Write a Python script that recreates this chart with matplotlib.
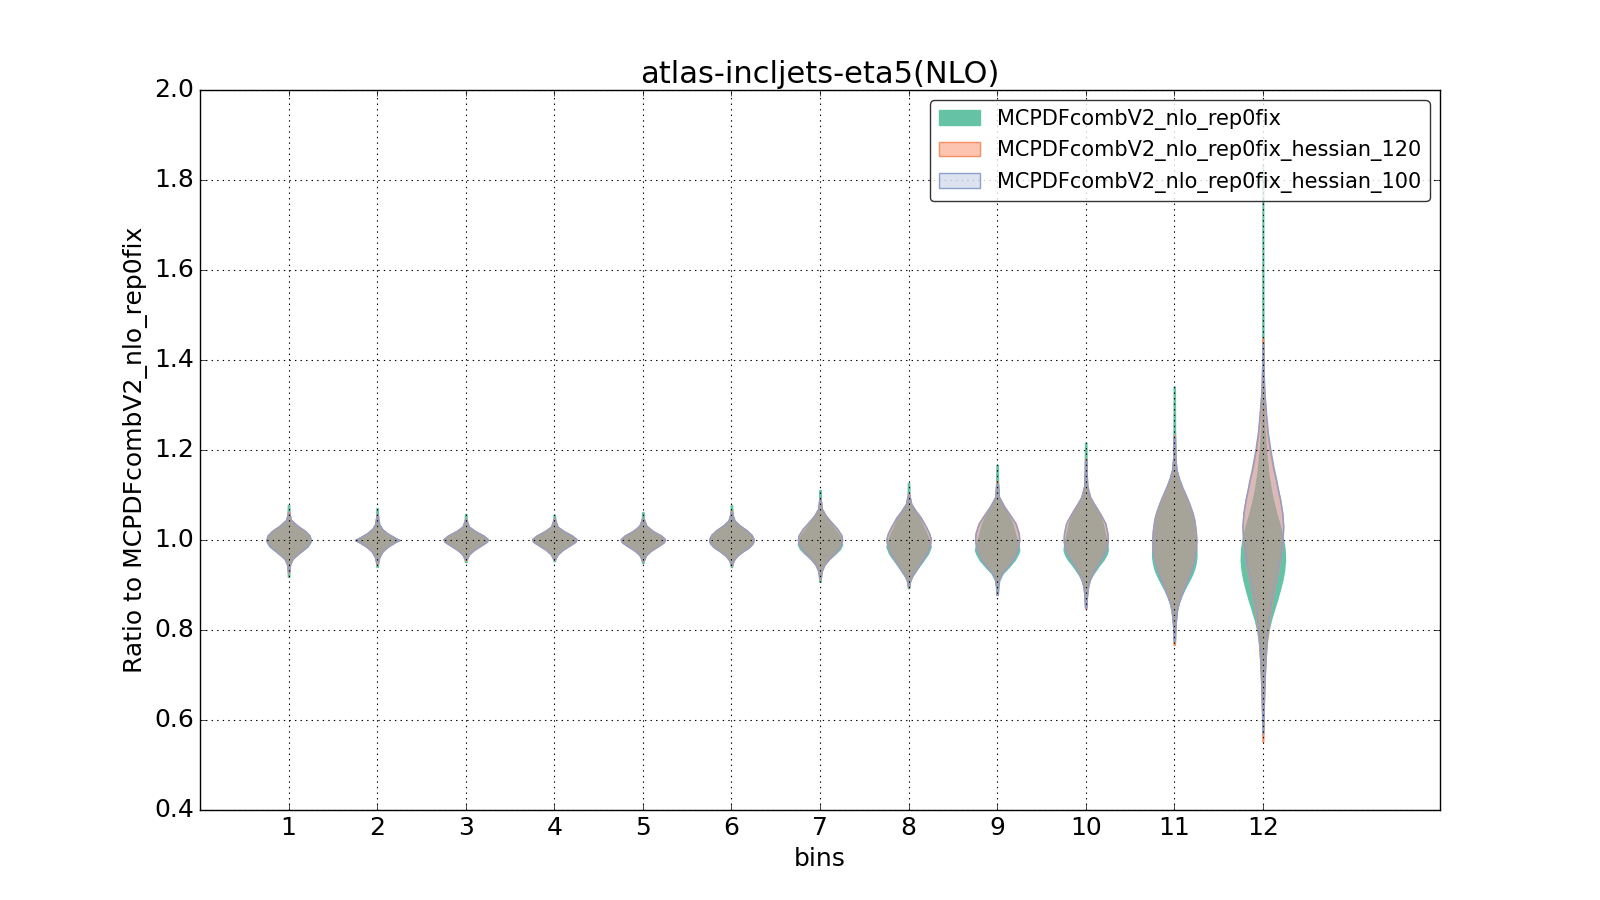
import matplotlib
matplotlib.use('Agg')
import matplotlib.pyplot as plt
from matplotlib.colors import to_rgba
from matplotlib.patches import Patch

# bins on the x axis
BINS = list(range(1, 13))

SERIES_NAMES = ['MCPDFcombV2_nlo_rep0fix',
                'MCPDFcombV2_nlo_rep0fix_hessian_120',
                'MCPDFcombV2_nlo_rep0fix_hessian_100']
SERIES_COLORS = ['#66c2a5', '#fc8d62', '#8da0cb']
SERIES_ALPHA = [1.0, 0.5, 0.3]

# violin profiles: ratio values (y) and relative
# density (w) for every bin
GREEN_Y = [
    [0.918, 0.935, 0.95, 0.96, 0.972, 0.985, 0.995, 1.0, 1.008, 1.018, 1.03, 1.042, 1.055, 1.078],
    [0.94, 0.955, 0.965, 0.975, 0.985, 0.995, 1.0, 1.005, 1.015, 1.025, 1.035, 1.05, 1.071],
    [0.951, 0.962, 0.972, 0.982, 0.992, 1.0, 1.008, 1.018, 1.028, 1.04, 1.058],
    [0.953, 0.962, 0.972, 0.982, 0.992, 1.0, 1.008, 1.018, 1.028, 1.04, 1.056],
    [0.949, 0.96, 0.97, 0.98, 0.99, 1.0, 1.008, 1.018, 1.03, 1.043, 1.062],
    [0.94, 0.952, 0.962, 0.972, 0.982, 0.992, 1.0, 1.008, 1.018, 1.028, 1.04, 1.055, 1.078],
    [0.907, 0.925, 0.94, 0.955, 0.97, 0.98, 0.99, 1.0, 1.012, 1.025, 1.04, 1.055, 1.067, 1.085, 1.111],
    [0.893, 0.905, 0.918, 0.933, 0.945, 0.956, 0.97, 0.985, 1.0, 1.015, 1.03, 1.05, 1.065, 1.082, 1.1, 1.127],
    [0.88, 0.895, 0.911, 0.926, 0.94, 0.955, 0.97, 0.978, 0.99, 1.0, 1.015, 1.037, 1.055, 1.074, 1.096, 1.13, 1.167],
    [0.855, 0.875, 0.889, 0.9, 0.911, 0.922, 0.933, 0.945, 0.956, 0.967, 0.978, 0.99, 1.0, 1.015, 1.037,
     1.052, 1.067, 1.082, 1.096, 1.12, 1.16, 1.216],
    [0.78, 0.8, 0.815, 0.83, 0.844, 0.86, 0.874, 0.89, 0.904, 0.918, 0.933, 0.948, 0.963, 0.975, 0.99,
     1.0, 1.02, 1.044, 1.062, 1.081, 1.1, 1.119, 1.138, 1.156, 1.18, 1.22, 1.28, 1.341],
    [0.58, 0.62, 0.66, 0.7, 0.72, 0.74, 0.763, 0.78, 0.8, 0.822, 0.845, 0.867, 0.89, 0.911, 0.933,
     0.956, 0.98, 1.0, 1.03, 1.06, 1.09, 1.111, 1.15, 1.2, 1.25, 1.28, 1.34, 1.45, 1.6, 1.835],
]
GREEN_W = [
    [0.03, 0.04, 0.08, 0.2, 0.5, 0.85, 0.98, 1.0, 0.93, 0.75, 0.4, 0.12, 0.05, 0.03],
    [0.03, 0.05, 0.1, 0.22, 0.45, 0.8, 1.0, 0.8, 0.45, 0.22, 0.1, 0.04, 0.03],
    [0.03, 0.07, 0.2, 0.45, 0.8, 1.0, 0.8, 0.45, 0.15, 0.05, 0.03],
    [0.03, 0.07, 0.2, 0.45, 0.8, 1.0, 0.8, 0.45, 0.16, 0.05, 0.03],
    [0.03, 0.07, 0.2, 0.45, 0.8, 1.0, 0.82, 0.48, 0.18, 0.05, 0.03],
    [0.03, 0.06, 0.18, 0.42, 0.75, 0.96, 1.0, 0.93, 0.75, 0.48, 0.18, 0.05, 0.03],
    [0.03, 0.05, 0.12, 0.35, 0.7, 0.9, 1.0, 0.97, 0.85, 0.65, 0.42, 0.2, 0.08, 0.04, 0.03],
    [0.03, 0.05, 0.15, 0.35, 0.52, 0.68, 0.88, 1.0, 0.92, 0.8, 0.66, 0.48, 0.3, 0.1, 0.04, 0.03],
    [0.03, 0.05, 0.1, 0.25, 0.52, 0.78, 0.95, 1.0, 0.95, 0.88, 0.8, 0.68, 0.5, 0.3, 0.08, 0.04, 0.03],
    [0.03, 0.05, 0.08, 0.12, 0.18, 0.3, 0.45, 0.62, 0.8, 0.93, 1.0, 0.97, 0.92, 0.86, 0.76,
     0.65, 0.48, 0.3, 0.16, 0.06, 0.04, 0.03],
    [0.03, 0.04, 0.06, 0.09, 0.12, 0.2, 0.3, 0.45, 0.6, 0.75, 0.88, 0.96, 1.0, 1.0, 0.97,
     0.94, 0.9, 0.85, 0.78, 0.65, 0.5, 0.33, 0.2, 0.1, 0.05, 0.035, 0.03, 0.025],
    [0.02, 0.03, 0.05, 0.08, 0.1, 0.13, 0.16, 0.2, 0.26, 0.36, 0.5, 0.64, 0.77, 0.88, 0.96,
     1.0, 0.98, 0.92, 0.78, 0.6, 0.45, 0.36, 0.24, 0.14, 0.07, 0.05, 0.035, 0.025, 0.02, 0.015],
]

ORANGE_Y = [
    [0.928, 0.945, 0.958, 0.97, 0.985, 0.995, 1.0, 1.01, 1.02, 1.032, 1.045, 1.062],
    [0.948, 0.962, 0.975, 0.985, 0.995, 1.0, 1.005, 1.015, 1.025, 1.035, 1.056],
    [0.956, 0.968, 0.978, 0.988, 0.996, 1.002, 1.01, 1.02, 1.03, 1.046],
    [0.957, 0.968, 0.978, 0.988, 0.996, 1.002, 1.01, 1.02, 1.03, 1.047],
    [0.954, 0.966, 0.976, 0.986, 0.995, 1.002, 1.01, 1.02, 1.032, 1.049],
    [0.944, 0.955, 0.965, 0.975, 0.985, 0.995, 1.003, 1.012, 1.022, 1.032, 1.045, 1.064],
    [0.913, 0.93, 0.945, 0.96, 0.975, 0.99, 1.0, 1.01, 1.025, 1.04, 1.055, 1.07, 1.092],
    [0.896, 0.91, 0.922, 0.935, 0.95, 0.965, 0.98, 0.993, 1.003, 1.015, 1.03, 1.05, 1.065, 1.08, 1.102],
    [0.878, 0.895, 0.911, 0.926, 0.94, 0.955, 0.97, 0.985, 1.0, 1.015, 1.037, 1.055, 1.074, 1.096, 1.13],
    [0.848, 0.87, 0.889, 0.9, 0.911, 0.922, 0.933, 0.945, 0.956, 0.967, 0.978, 0.99, 1.0, 1.015, 1.037,
     1.052, 1.067, 1.082, 1.096, 1.12, 1.15, 1.18],
    [0.767, 0.8, 0.815, 0.83, 0.844, 0.86, 0.874, 0.89, 0.904, 0.918, 0.933, 0.948, 0.963, 0.98, 1.0,
     1.02, 1.044, 1.062, 1.081, 1.1, 1.119, 1.138, 1.156, 1.18, 1.233],
    [0.552, 0.58, 0.62, 0.66, 0.7, 0.74, 0.78, 0.8, 0.822, 0.845, 0.867, 0.89, 0.911, 0.933, 0.956,
     0.98, 1.0, 1.03, 1.059, 1.09, 1.111, 1.133, 1.16, 1.2, 1.24, 1.281, 1.32, 1.38, 1.448],
]
ORANGE_W = [
    [0.03, 0.06, 0.18, 0.45, 0.82, 0.97, 1.0, 0.95, 0.75, 0.4, 0.1, 0.03],
    [0.04, 0.1, 0.25, 0.48, 0.8, 1.0, 0.8, 0.45, 0.2, 0.08, 0.03],
    [0.04, 0.15, 0.38, 0.7, 0.95, 1.0, 0.8, 0.42, 0.14, 0.03],
    [0.04, 0.15, 0.38, 0.7, 0.95, 1.0, 0.8, 0.42, 0.14, 0.03],
    [0.04, 0.14, 0.36, 0.68, 0.95, 1.0, 0.82, 0.45, 0.15, 0.03],
    [0.03, 0.1, 0.26, 0.52, 0.82, 0.98, 1.0, 0.9, 0.68, 0.38, 0.1, 0.03],
    [0.03, 0.07, 0.2, 0.45, 0.75, 0.95, 1.0, 0.97, 0.78, 0.5, 0.25, 0.08, 0.03],
    [0.03, 0.07, 0.18, 0.35, 0.55, 0.75, 0.9, 0.98, 1.0, 0.93, 0.78, 0.55, 0.32, 0.12, 0.03],
    [0.03, 0.04, 0.08, 0.2, 0.44, 0.67, 0.84, 0.94, 1.0, 0.98, 0.84, 0.6, 0.33, 0.08, 0.03],
    [0.03, 0.05, 0.08, 0.12, 0.18, 0.27, 0.38, 0.52, 0.67, 0.8, 0.9, 0.97, 1.0, 0.98, 0.89,
     0.73, 0.55, 0.36, 0.2, 0.07, 0.04, 0.03],
    [0.03, 0.04, 0.06, 0.09, 0.12, 0.19, 0.28, 0.4, 0.51, 0.62, 0.74, 0.85, 0.92, 0.98, 1.0,
     0.97, 0.9, 0.8, 0.66, 0.5, 0.33, 0.19, 0.09, 0.05, 0.03],
    [0.02, 0.03, 0.045, 0.07, 0.1, 0.14, 0.2, 0.25, 0.31, 0.38, 0.46, 0.55, 0.65, 0.75, 0.84,
     0.92, 0.97, 1.0, 0.95, 0.84, 0.74, 0.64, 0.5, 0.34, 0.22, 0.14, 0.08, 0.035, 0.02],
]

BLUE_Y = [
    [0.93, 0.945, 0.958, 0.97, 0.985, 0.995, 1.0, 1.01, 1.02, 1.032, 1.045, 1.06],
    [0.95, 0.962, 0.975, 0.985, 0.995, 1.0, 1.005, 1.015, 1.025, 1.035, 1.055],
    [0.958, 0.968, 0.978, 0.988, 0.996, 1.002, 1.01, 1.02, 1.03, 1.045],
    [0.958, 0.968, 0.978, 0.988, 0.996, 1.002, 1.01, 1.02, 1.03, 1.046],
    [0.955, 0.966, 0.976, 0.986, 0.995, 1.002, 1.01, 1.02, 1.032, 1.048],
    [0.945, 0.955, 0.965, 0.975, 0.985, 0.995, 1.003, 1.012, 1.022, 1.032, 1.045, 1.062],
    [0.915, 0.93, 0.945, 0.96, 0.975, 0.99, 1.0, 1.01, 1.025, 1.04, 1.055, 1.07, 1.09],
    [0.898, 0.91, 0.922, 0.935, 0.95, 0.965, 0.98, 0.993, 1.003, 1.015, 1.03, 1.05, 1.065, 1.08, 1.1],
    [0.878, 0.895, 0.911, 0.926, 0.94, 0.955, 0.97, 0.985, 1.0, 1.015, 1.037, 1.055, 1.074, 1.096, 1.126],
    [0.85, 0.87, 0.889, 0.9, 0.911, 0.922, 0.933, 0.945, 0.956, 0.967, 0.978, 0.99, 1.0, 1.015, 1.037,
     1.052, 1.067, 1.082, 1.096, 1.12, 1.15, 1.178],
    [0.775, 0.8, 0.815, 0.83, 0.844, 0.86, 0.874, 0.89, 0.904, 0.918, 0.933, 0.948, 0.963, 0.98, 1.0,
     1.02, 1.044, 1.062, 1.081, 1.1, 1.119, 1.138, 1.156, 1.18, 1.23],
    [0.57, 0.6, 0.64, 0.68, 0.72, 0.76, 0.8, 0.822, 0.845, 0.867, 0.89, 0.911, 0.933, 0.956, 0.98,
     1.0, 1.03, 1.059, 1.09, 1.111, 1.133, 1.16, 1.2, 1.24, 1.281, 1.32, 1.341, 1.38, 1.437],
]
BLUE_W = [
    [0.03, 0.06, 0.18, 0.45, 0.82, 0.97, 1.0, 0.95, 0.75, 0.4, 0.1, 0.03],
    [0.04, 0.1, 0.25, 0.48, 0.8, 1.0, 0.8, 0.45, 0.2, 0.08, 0.03],
    [0.04, 0.15, 0.38, 0.7, 0.95, 1.0, 0.8, 0.42, 0.14, 0.03],
    [0.04, 0.15, 0.38, 0.7, 0.95, 1.0, 0.8, 0.42, 0.14, 0.03],
    [0.04, 0.14, 0.36, 0.68, 0.95, 1.0, 0.82, 0.45, 0.15, 0.03],
    [0.03, 0.1, 0.26, 0.52, 0.82, 0.98, 1.0, 0.9, 0.68, 0.38, 0.1, 0.03],
    [0.03, 0.07, 0.2, 0.45, 0.75, 0.95, 1.0, 0.97, 0.78, 0.5, 0.25, 0.08, 0.03],
    [0.03, 0.07, 0.18, 0.35, 0.55, 0.75, 0.9, 0.98, 1.0, 0.93, 0.78, 0.55, 0.32, 0.12, 0.03],
    [0.03, 0.04, 0.08, 0.2, 0.45, 0.68, 0.85, 0.95, 1.0, 0.97, 0.82, 0.58, 0.32, 0.08, 0.03],
    [0.03, 0.05, 0.08, 0.12, 0.18, 0.27, 0.38, 0.52, 0.67, 0.8, 0.9, 0.97, 1.0, 0.98, 0.88,
     0.72, 0.54, 0.35, 0.19, 0.07, 0.04, 0.03],
    [0.03, 0.04, 0.06, 0.09, 0.12, 0.2, 0.3, 0.42, 0.53, 0.64, 0.76, 0.86, 0.93, 0.98, 1.0,
     0.97, 0.91, 0.82, 0.68, 0.52, 0.35, 0.2, 0.1, 0.05, 0.03],
    [0.02, 0.03, 0.05, 0.08, 0.11, 0.15, 0.22, 0.28, 0.35, 0.43, 0.52, 0.62, 0.72, 0.82, 0.9,
     0.97, 1.0, 0.96, 0.85, 0.75, 0.66, 0.53, 0.37, 0.24, 0.16, 0.09, 0.06, 0.035, 0.02],
]

# full width of each series' violins, per bin
GREEN_WIDTH = [0.5] * 12
ORANGE_WIDTH = [0.5] * 11 + [0.46]
BLUE_WIDTH = [0.5] * 11 + [0.46]

TITLE = 'atlas-incljets-eta5(NLO)'


def make_stats(ys_list, ws_list):
    # build the stats dicts that ax.violin expects
    stats = []
    for ys, ws in zip(ys_list, ws_list):
        peak = ys[ws.index(max(ws))]
        stats.append({'coords': ys, 'vals': ws, 'mean': peak,
                      'median': peak, 'min': ys[0], 'max': ys[-1]})
    return stats


def main():
    plt.style.use('classic')
    fig, ax = plt.subplots(figsize=(16, 9), dpi=100)
    fig.patch.set_facecolor('white')
    fig.subplots_adjust(left=0.125, right=0.9, bottom=0.1, top=0.9)

    all_y = [GREEN_Y, ORANGE_Y, BLUE_Y]
    all_w = [GREEN_W, ORANGE_W, BLUE_W]
    all_width = [GREEN_WIDTH, ORANGE_WIDTH, BLUE_WIDTH]
    handles = []
    for ys, ws, width, color, alpha, name in zip(all_y, all_w, all_width,
                                                 SERIES_COLORS, SERIES_ALPHA,
                                                 SERIES_NAMES):
        parts = ax.violin(make_stats(ys, ws), positions=BINS, widths=width,
                          showmeans=False, showextrema=False,
                          showmedians=False)
        for body in parts['bodies']:
            body.set_alpha(None)
            body.set_facecolor(to_rgba(color, alpha))
            body.set_edgecolor(color)
            body.set_linewidth(1.0)
        handles.append(Patch(facecolor=to_rgba(color, alpha),
                             edgecolor=color, label=name))

    ax.set_xlim(0, 14)
    ax.set_ylim(0.4, 2.0)
    ax.set_xticks(BINS)
    ax.set_yticks([0.4, 0.6, 0.8, 1.0, 1.2, 1.4, 1.6, 1.8, 2.0])
    ax.grid(True, linestyle=':', color='black', linewidth=0.8)
    ax.tick_params(labelsize=18)

    ax.set_title(TITLE, fontsize=22)
    ax.set_xlabel('bins', fontsize=18)
    ax.set_ylabel('Ratio to MCPDFcombV2_nlo_rep0fix', fontsize=18)

    leg = ax.legend(handles=handles, loc='upper right', fontsize=15,
                    fancybox=True, framealpha=0.8)
    leg.get_frame().set_edgecolor('black')

    fig.savefig('out.png', dpi=100, facecolor='white')
    plt.close(fig)


main()
